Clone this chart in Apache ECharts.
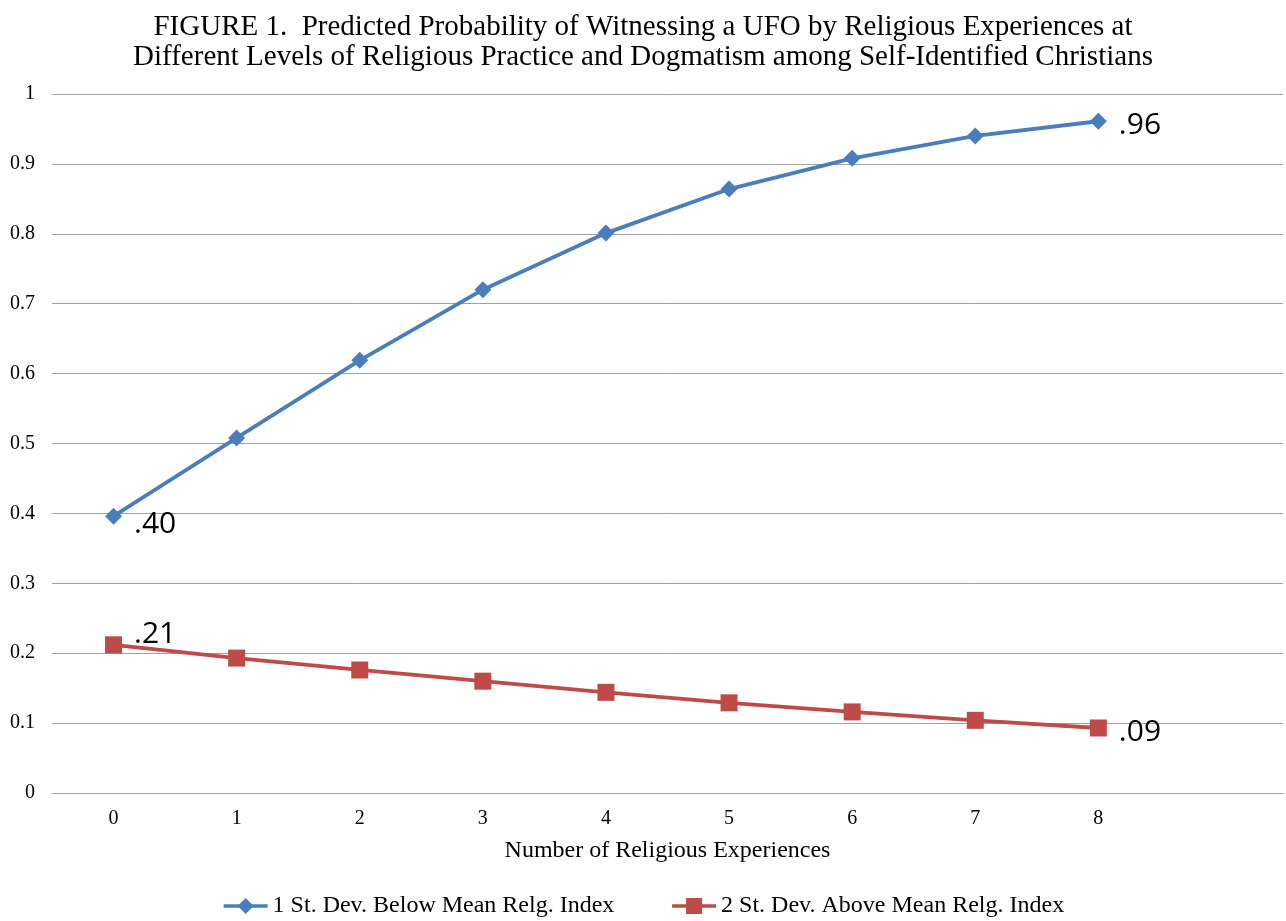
<!DOCTYPE html>
<html>
<head>
<meta charset="utf-8">
<script src="https://cdn.jsdelivr.net/npm/echarts@6/dist/echarts.min.js"></script>
<style>
  html, body { margin: 0; padding: 0; background: #fff; }
  #chart { width: 1286px; height: 921px; }
</style>
</head>
<body>
<div id="chart"></div>
<script>
// categories (last slot is an empty category, as in the original Excel chart)
const categories = ['0', '1', '2', '3', '4', '5', '6', '7', '8', ''];
const belowMean = [0.396, 0.508, 0.619, 0.720, 0.801, 0.864, 0.908, 0.940, 0.961];
const aboveMean = [0.212, 0.193, 0.176, 0.160, 0.144, 0.129, 0.116, 0.104, 0.093];
const yTicks = ['0', '0.1', '0.2', '0.3', '0.4', '0.5', '0.6', '0.7', '0.8', '0.9', '1'];

const serif = '"Liberation Serif", "Times New Roman", serif';
const sans = '"Open Sans", "Liberation Sans", sans-serif';

// put labels only on first and last point
const withEndLabels = (vals, firstOffset) => vals.map((v, i) => {
    if (i === 0 || i === vals.length - 1) {
        return {
            value: v,
            label: {
                show: true,
                position: 'right',
                distance: 12,
                offset: i === 0 ? firstOffset : [0, 4],
                formatter: p => p.value.toFixed(2).slice(1),
                fontFamily: sans,
                fontSize: 30,
                color: '#000'
            }
        };
    }
    return v;
});

const chart = echarts.init(document.getElementById('chart'));
chart.setOption({
    animation: false,
    title: {
        text: 'FIGURE 1.  Predicted Probability of Witnessing a UFO by Religious Experiences at\nDifferent Levels of Religious Practice and Dogmatism among Self-Identified Christians',
        left: 'center',
        top: 7,
        textStyle: { fontFamily: serif, fontSize: 29, fontWeight: 'normal', color: '#000', lineHeight: 30 }
    },
    grid: { left: 52, right: 3, top: 94, bottom: 128, containLabel: false },
    legend: {
        bottom: -2,
        left: 'center',
        itemWidth: 44,
        itemHeight: 20,
        itemGap: 56,
        lineStyle: { width: 3.5 },
        textStyle: { fontFamily: serif, fontSize: 24, color: '#000' },
        data: ['1 St. Dev. Below Mean Relg. Index', '2 St. Dev. Above Mean Relg. Index']
    },
    xAxis: {
        type: 'category',
        data: categories,
        boundaryGap: true,
        name: 'Number of Religious Experiences',
        nameLocation: 'middle',
        nameGap: 46,
        nameTextStyle: { fontFamily: serif, fontSize: 24, color: '#000' },
        axisLine: { lineStyle: { color: '#a0a0a0', width: 1 } },
        axisTick: { show: false },
        axisLabel: { fontFamily: serif, fontSize: 20, color: '#000', margin: 16 }
    },
    yAxis: {
        type: 'value',
        min: 0,
        max: 1,
        interval: 0.1,
        axisLine: { show: false },
        axisTick: { show: false },
        splitLine: { lineStyle: { color: '#a0a0a0', width: 1 } },
        axisLabel: {
            fontFamily: serif, fontSize: 20, color: '#000', margin: 17,
            formatter: (v) => yTicks[Math.round(v * 10)]
        }
    },
    series: [
        {
            name: '1 St. Dev. Below Mean Relg. Index',
            type: 'line',
            data: withEndLabels(belowMean, [0, 8]),
            symbol: 'diamond',
            symbolSize: 17,
            lineStyle: { color: '#4a7ebb', width: 3.8 },
            itemStyle: { color: '#4a7ebb' }
        },
        {
            name: '2 St. Dev. Above Mean Relg. Index',
            type: 'line',
            data: withEndLabels(aboveMean, [0, -10]),
            symbol: 'rect',
            symbolSize: 17,
            lineStyle: { color: '#be4b48', width: 3.8 },
            itemStyle: { color: '#be4b48' }
        }
    ]
});
</script>
</body>
</html>
